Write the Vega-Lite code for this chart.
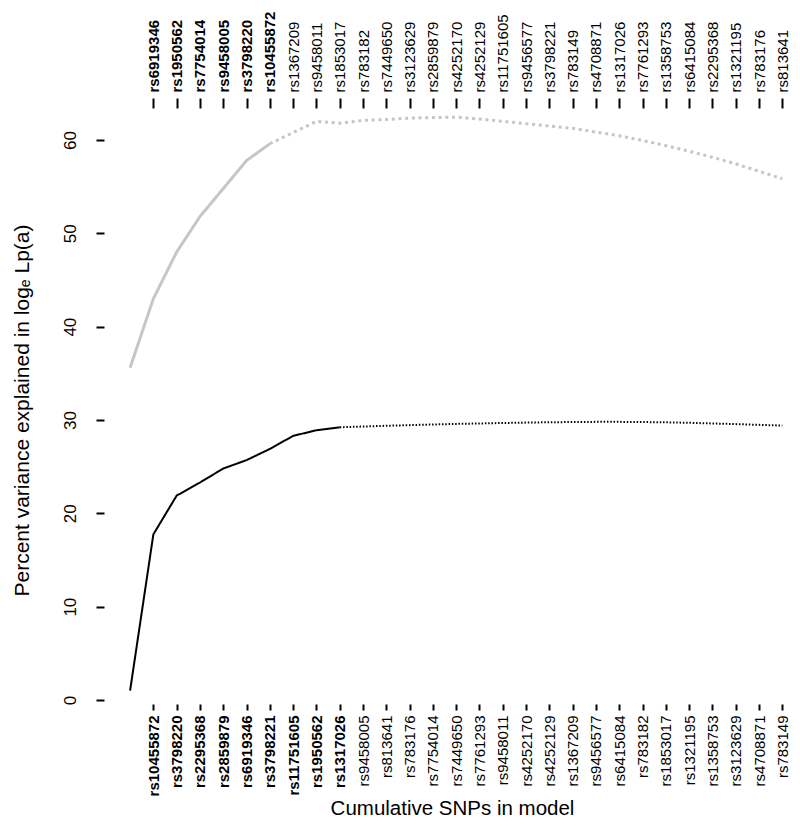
{
  "$schema": "https://vega.github.io/schema/vega-lite/v6.json",
  "width": 696,
  "height": 596,
  "autosize": {"type": "none"},
  "padding": {"left": 104, "top": 108, "right": 0, "bottom": 126},
  "background": "white",
  "config": {
    "font": "Liberation Sans",
    "view": {"stroke": null},
    "axis": {"grid": false, "labelColor": "#000000", "tickColor": "#000000", "titleColor": "#000000", "titleFontWeight": "normal", "domainColor": "#000000"}
  },
  "datasets": {
    "black": [
      {"pos": 0, "pct": 1.0, "segment": "solid"},
      {"pos": 1, "pct": 17.75, "segment": "solid"},
      {"pos": 2, "pct": 21.9, "segment": "solid"},
      {"pos": 3, "pct": 23.3, "segment": "solid"},
      {"pos": 4, "pct": 24.8, "segment": "solid"},
      {"pos": 5, "pct": 25.7, "segment": "solid"},
      {"pos": 6, "pct": 26.9, "segment": "solid"},
      {"pos": 7, "pct": 28.3, "segment": "solid"},
      {"pos": 8, "pct": 28.9, "segment": "solid"},
      {"pos": 9, "pct": 29.22, "segment": "solid"},
      {"pos": 9, "pct": 29.22, "segment": "dotted"},
      {"pos": 10, "pct": 29.3, "segment": "dotted"},
      {"pos": 11, "pct": 29.38, "segment": "dotted"},
      {"pos": 12, "pct": 29.45, "segment": "dotted"},
      {"pos": 13, "pct": 29.52, "segment": "dotted"},
      {"pos": 14, "pct": 29.58, "segment": "dotted"},
      {"pos": 15, "pct": 29.63, "segment": "dotted"},
      {"pos": 16, "pct": 29.68, "segment": "dotted"},
      {"pos": 17, "pct": 29.72, "segment": "dotted"},
      {"pos": 18, "pct": 29.76, "segment": "dotted"},
      {"pos": 19, "pct": 29.78, "segment": "dotted"},
      {"pos": 20, "pct": 29.8, "segment": "dotted"},
      {"pos": 21, "pct": 29.8, "segment": "dotted"},
      {"pos": 22, "pct": 29.78, "segment": "dotted"},
      {"pos": 23, "pct": 29.75, "segment": "dotted"},
      {"pos": 24, "pct": 29.7, "segment": "dotted"},
      {"pos": 25, "pct": 29.63, "segment": "dotted"},
      {"pos": 26, "pct": 29.56, "segment": "dotted"},
      {"pos": 27, "pct": 29.48, "segment": "dotted"},
      {"pos": 28, "pct": 29.4, "segment": "dotted"}
    ],
    "grey": [
      {"pos": 0, "pct": 35.6, "segment": "solid"},
      {"pos": 1, "pct": 43.0, "segment": "solid"},
      {"pos": 2, "pct": 48.0, "segment": "solid"},
      {"pos": 3, "pct": 51.8, "segment": "solid"},
      {"pos": 4, "pct": 54.8, "segment": "solid"},
      {"pos": 5, "pct": 57.8, "segment": "solid"},
      {"pos": 6, "pct": 59.6, "segment": "solid"},
      {"pos": 6, "pct": 59.6, "segment": "dotted"},
      {"pos": 7, "pct": 60.8, "segment": "dotted"},
      {"pos": 8, "pct": 62.0, "segment": "dotted"},
      {"pos": 9, "pct": 61.8, "segment": "dotted"},
      {"pos": 10, "pct": 62.1, "segment": "dotted"},
      {"pos": 11, "pct": 62.2, "segment": "dotted"},
      {"pos": 12, "pct": 62.35, "segment": "dotted"},
      {"pos": 13, "pct": 62.4, "segment": "dotted"},
      {"pos": 14, "pct": 62.45, "segment": "dotted"},
      {"pos": 15, "pct": 62.25, "segment": "dotted"},
      {"pos": 16, "pct": 62.0, "segment": "dotted"},
      {"pos": 17, "pct": 61.75, "segment": "dotted"},
      {"pos": 18, "pct": 61.5, "segment": "dotted"},
      {"pos": 19, "pct": 61.25, "segment": "dotted"},
      {"pos": 20, "pct": 60.85, "segment": "dotted"},
      {"pos": 21, "pct": 60.45, "segment": "dotted"},
      {"pos": 22, "pct": 59.95, "segment": "dotted"},
      {"pos": 23, "pct": 59.4, "segment": "dotted"},
      {"pos": 24, "pct": 58.8, "segment": "dotted"},
      {"pos": 25, "pct": 58.15, "segment": "dotted"},
      {"pos": 26, "pct": 57.45, "segment": "dotted"},
      {"pos": 27, "pct": 56.65, "segment": "dotted"},
      {"pos": 28, "pct": 55.85, "segment": "dotted"}
    ]
  },
  "layer": [
    {
      "data": {"name": "black"},
      "mark": {"type": "line", "color": "#000000", "strokeWidth": 2, "clip": true},
      "encoding": {
        "x": {
          "field": "pos", "type": "quantitative",
          "scale": {"domain": [-1.12, 28.76], "nice": false, "zero": false},
          "axis": {
            "orient": "bottom", "title": "Cumulative SNPs in model",
            "values": [1,2,3,4,5,6,7,8,9,10,11,12,13,14,15,16,17,18,19,20,21,22,23,24,25,26,27,28],
            "labelExpr": "['', 'rs10455872', 'rs3798220', 'rs2295368', 'rs2859879', 'rs6919346', 'rs3798221', 'rs11751605', 'rs1950562', 'rs1317026', 'rs9458005', 'rs813641', 'rs783176', 'rs7754014', 'rs7449650', 'rs7761293', 'rs9458011', 'rs4252170', 'rs4252129', 'rs1367209', 'rs9456577', 'rs6415084', 'rs783182', 'rs1853017', 'rs1321195', 'rs1358753', 'rs3123629', 'rs4708871', 'rs783149'][datum.value]",
            "labelAngle": -90, "labelAlign": "right", "labelBaseline": "middle",
            "labelFontSize": 15,
            "labelFontWeight": {"condition": {"test": "datum.value <= 9", "value": "bold"}, "value": "normal"},
            "labelOverlap": false, "labelFlush": false, "labelBound": false,
            "domain": false, "tickSize": 6, "tickWidth": 2, "labelPadding": 5,
            "titleFontSize": 20.5, "titleX": 348, "titleY": 110, "titleAlign": "center", "titleBaseline": "alphabetic", "titleAnchor": null
          }
        },
        "y": {
          "field": "pct", "type": "quantitative",
          "scale": {"domain": [-0.43, 63.43], "nice": false, "zero": false},
          "axis": {
            "title": "Percent variance explained in logₑ Lp(a)",
            "values": [0, 10, 20, 30, 40, 50, 60],
            "domain": false, "tickSize": 8, "tickWidth": 2,
            "labelAngle": -90, "labelAlign": "center", "labelBaseline": "alphabetic",
            "labelFontSize": 17, "labelPadding": 21,
            "titleFontSize": 21, "titleAngle": -90, "titleX": -76, "titleY": 302,
            "titleAlign": "center", "titleBaseline": "alphabetic"
          }
        },
        "strokeDash": {
          "field": "segment", "type": "nominal",
          "scale": {"domain": ["solid", "dotted"], "range": [[1, 0], [1.5, 1.8]]},
          "legend": null
        }
      }
    },
    {
      "data": {"name": "grey"},
      "mark": {"type": "line", "color": "#c6c6c6", "strokeWidth": 3, "clip": true},
      "encoding": {
        "x": {
          "field": "pos", "type": "quantitative",
          "scale": {"domain": [-1.12, 28.76], "nice": false, "zero": false},
          "axis": {
            "orient": "top", "title": null,
            "values": [1,2,3,4,5,6,7,8,9,10,11,12,13,14,15,16,17,18,19,20,21,22,23,24,25,26,27,28],
            "labelExpr": "['', 'rs6919346', 'rs1950562', 'rs7754014', 'rs9458005', 'rs3798220', 'rs10455872', 'rs1367209', 'rs9458011', 'rs1853017', 'rs783182', 'rs7449650', 'rs3123629', 'rs2859879', 'rs4252170', 'rs4252129', 'rs11751605', 'rs9456577', 'rs3798221', 'rs783149', 'rs4708871', 'rs1317026', 'rs7761293', 'rs1358753', 'rs6415084', 'rs2295368', 'rs1321195', 'rs783176', 'rs813641'][datum.value]",
            "labelAngle": -90, "labelAlign": "left", "labelBaseline": "middle",
            "labelFontSize": 15,
            "labelFontWeight": {"condition": {"test": "datum.value <= 6", "value": "bold"}, "value": "normal"},
            "labelOverlap": false, "labelFlush": false, "labelBound": false,
            "domain": false, "tickSize": 10, "tickWidth": 2, "labelPadding": 6
          }
        },
        "y": {
          "field": "pct", "type": "quantitative",
          "scale": {"domain": [-0.43, 63.43], "nice": false, "zero": false},
          "axis": null
        },
        "strokeDash": {
          "field": "segment", "type": "nominal",
          "scale": {"domain": ["solid", "dotted"], "range": [[1, 0], [3, 3.7]]},
          "legend": null
        }
      }
    },
    {
      "mark": {"type": "rule", "color": "#000000", "strokeWidth": 2},
      "encoding": {
        "x": {"datum": -1.12, "type": "quantitative", "axis": null},
        "y": {"datum": 0, "type": "quantitative", "axis": null},
        "y2": {"datum": 60}
      }
    }
  ],
  "resolve": {
    "axis": {"x": "independent", "y": "independent"},
    "scale": {"strokeDash": "independent"}
  }
}
